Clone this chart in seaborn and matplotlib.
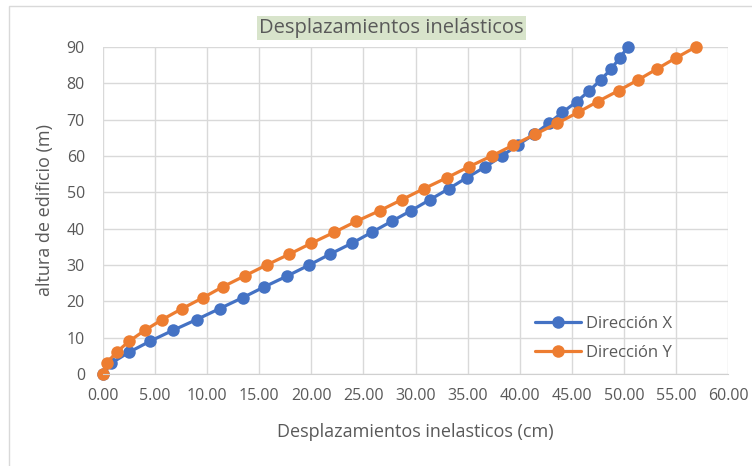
import seaborn as sns
import pandas as pd
import numpy as np
import matplotlib.pyplot as plt
from matplotlib.patches import Rectangle

altura = [0, 3, 6, 9, 12, 15, 18, 21, 24, 27, 30, 33, 36, 39, 42, 45,
          48, 51, 54, 57, 60, 63, 66, 69, 72, 75, 78, 81, 84, 87, 90]
desp_x = [0.0, 0.8, 2.5, 4.5, 6.7, 9.0, 11.2, 13.4, 15.5, 17.7, 19.8, 21.8, 23.9, 25.8, 27.7, 29.6,
          31.4, 33.2, 34.9, 36.7, 38.3, 39.8, 41.4, 42.8, 44.1, 45.5, 46.7, 47.8, 48.8, 49.6, 50.4]
desp_y = [0.0, 0.35, 1.3, 2.5, 4.0, 5.7, 7.6, 9.6, 11.5, 13.6, 15.7, 17.9, 20.0, 22.2, 24.3, 26.6,
          28.7, 30.8, 33.0, 35.1, 37.3, 39.4, 41.5, 43.6, 45.6, 47.5, 49.5, 51.4, 53.2, 55.0, 56.9]
series = ['Dirección X', 'Dirección Y']
colores = ['#4472C4', '#ED7D31']

df = pd.concat([
    pd.DataFrame({'desp': desp_x, 'altura': altura, 'serie': series[0]}),
    pd.DataFrame({'desp': desp_y, 'altura': altura, 'serie': series[1]}),
])

sns.set_style('white')
plt.rcParams['font.family'] = ['Open Sans', 'DejaVu Sans']
gris = '#595959'

fig = plt.figure(figsize=(7.52, 4.66), dpi=100)
ax = fig.add_axes([103 / 752, 1 - 374 / 466, 625 / 752, 327 / 466])

sns.lineplot(data=df, x='desp', y='altura', hue='serie', palette=colores,
             marker='o', markersize=9, markeredgewidth=0, linewidth=2.3,
             sort=False, ax=ax)
for ln in ax.get_lines():
    ln.set_clip_on(False)

ax.set_xlim(0, 60)
ax.set_ylim(0, 90)
ax.set_xticks(np.arange(0, 61, 5))
ax.set_xticklabels([f'{v:.2f}' for v in np.arange(0, 61, 5)])
ax.set_yticks(np.arange(0, 91, 10))
ax.grid(True, color='#d9d9d9', linewidth=1)
ax.set_axisbelow(True)
for s in ['top', 'right', 'left']:
    ax.spines[s].set_visible(False)
ax.spines['bottom'].set_color('#d0d0d0')
ax.tick_params(axis='both', colors=gris, labelsize=11.5, length=0)
ax.tick_params(axis='x', pad=10)
ax.tick_params(axis='y', pad=13)
for lab in ax.get_xticklabels() + ax.get_yticklabels():
    lab.set_color(gris)

ax.set_xlabel('Desplazamientos inelasticos (cm)', color=gris, fontsize=13, labelpad=14)
ax.set_ylabel('altura de edificio (m)', color=gris, fontsize=13, labelpad=9)

fig.text(0.521, 1 - 28 / 466, 'Desplazamientos inelásticos', ha='center', va='center',
         color=gris, fontsize=14.5,
         bbox=dict(facecolor='#d8e4cb', edgecolor='none', pad=1.5))

leg = ax.legend(loc='lower right', bbox_to_anchor=(0.935, -0.005), frameon=False,
                fontsize=12, handlelength=2.8, labelspacing=0.75, handletextpad=0.3)
for t in leg.get_texts():
    t.set_color(gris)

fig.add_artist(Rectangle((9 / 752, -0.1), 1.2, 1 - 6 / 466 + 0.1, transform=fig.transFigure,
                         fill=False, edgecolor='#d9d9d9', linewidth=1))

fig.savefig('out.png', dpi=100)
